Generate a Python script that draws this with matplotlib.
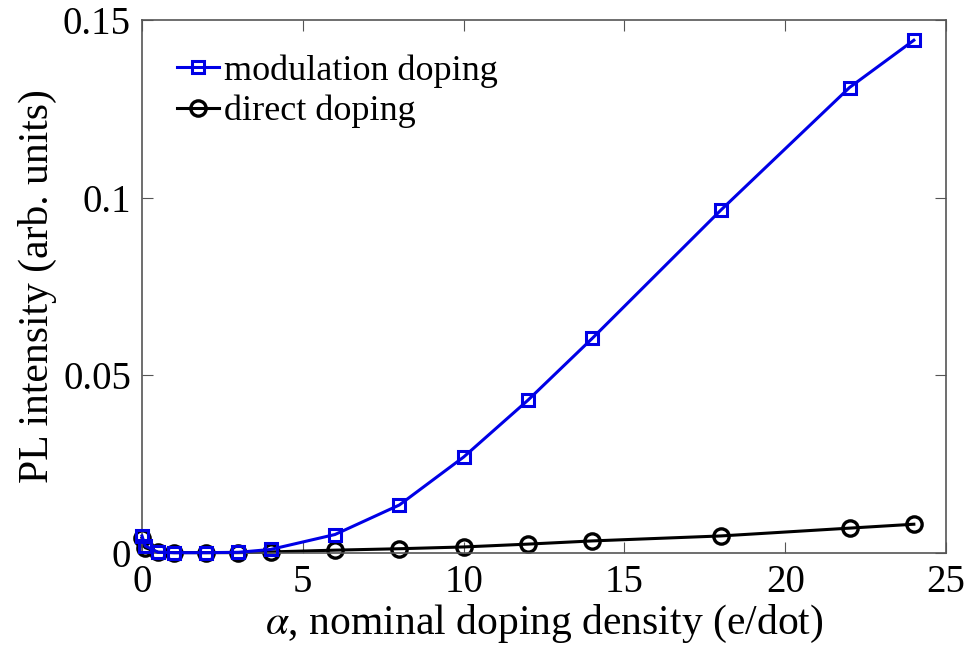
import matplotlib
matplotlib.use('Agg')
import matplotlib.pyplot as plt

plt.rcParams['font.family'] = ['Liberation Serif', 'DejaVu Serif']
plt.rcParams['mathtext.fontset'] = 'stix'

alpha = [0, 0.1, 0.5, 1, 2, 3, 4, 6, 8, 10, 12, 14, 18, 22, 24]
modulation = [0.0048, 0.002, 0.0002, 0.0001, 0.0001, 0.0002, 0.001, 0.0052,
              0.0135, 0.027, 0.043, 0.0604, 0.0965, 0.131, 0.1443]
direct = [0.0042, 0.0015, 0.0002, 0.0001, 0.0001, 0.0001, 0.0003, 0.0008,
          0.0012, 0.0017, 0.0025, 0.0034, 0.0048, 0.007, 0.0081]

fig = plt.figure(figsize=[9.68, 6.68], dpi=100)
ax = fig.add_axes([142 / 968, 1 - 553 / 668, (946 - 142) / 968, (553 - 20) / 668])

ax.plot(alpha, modulation, color='#0000e6', linewidth=2.2, marker='s',
        markersize=9, markerfacecolor='none', markeredgewidth=2.2,
        label='modulation doping', clip_on=False, zorder=3)
ax.plot(alpha, direct, color='black', linewidth=2.2, marker='o',
        markersize=11, markerfacecolor='none', markeredgewidth=2.4,
        label='direct doping', clip_on=False, zorder=2)

ax.set_xlim(0, 25)
ax.set_ylim(0, 0.15)
ax.set_xticks([0, 5, 10, 15, 20, 25])
ax.set_yticks([0, 0.05, 0.1, 0.15])
ax.set_yticklabels(['0', '0.05', '0.1', '0.15'])
ax.tick_params(direction='in', top=True, right=True, labelsize=28,
               length=8, color='#555555', pad=8)
for s in ax.spines.values():
    s.set_color('#555555')
    s.set_linewidth(1.2)

ax.set_xlabel(r'$\alpha$, nominal doping density (e/dot)', fontsize=30, labelpad=1)
ax.set_ylabel('PL intensity (arb. units)', fontsize=30, labelpad=4)

ax.legend(loc='upper left', bbox_to_anchor=(0.008, 0.99), frameon=False,
          fontsize=26, handlelength=1.15, handletextpad=0.15,
          labelspacing=0.2, borderpad=0.3)

fig.savefig('out.png', dpi=100)
